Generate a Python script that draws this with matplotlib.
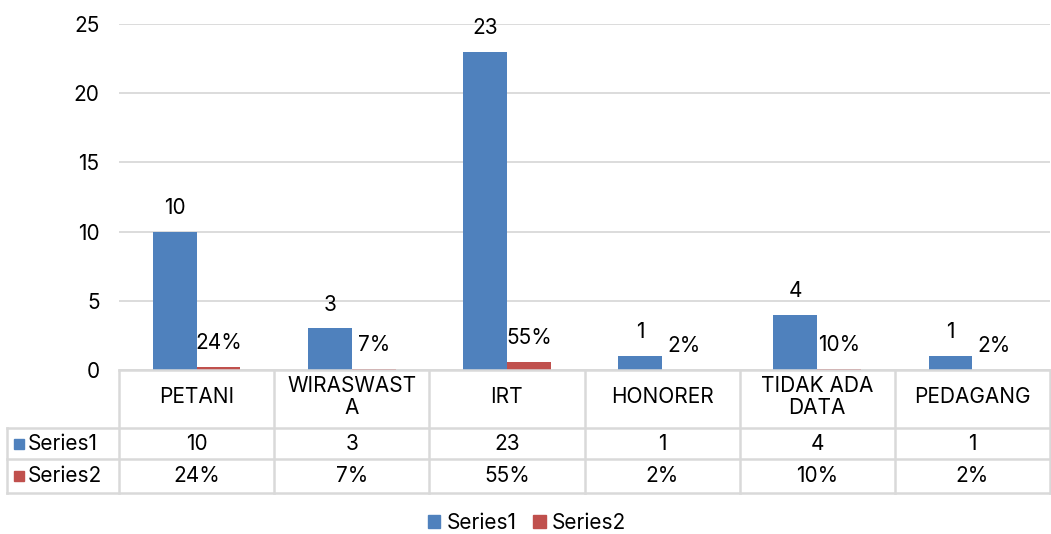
import matplotlib.pyplot as plt
from matplotlib.patches import Patch
import numpy as np

plt.rcParams['font.family'] = ['Inter', 'DejaVu Sans']

# data
kategori = ["PETANI", "WIRASWAST\nA", "IRT", "HONORER", "TIDAK ADA\nDATA", "PEDAGANG"]
series1 = [10, 3, 23, 1, 4, 1]
series2 = [0.24, 0.07, 0.55, 0.02, 0.10, 0.02]
nama_series = ["Series1", "Series2"]
warna = ["#4F81BD", "#C0504D"]
yticks = [0, 5, 10, 15, 20, 25]

W, H = 1051, 534
fs = 15
fig = plt.figure(figsize=(W / 100, H / 100), dpi=100)

# posisi dalam piksel
x0, x1 = 119, 1050
ytop, ybot = 24, 370
ax = fig.add_axes([x0 / W, 1 - ybot / H, (x1 - x0) / W, (ybot - ytop) / H])

n = len(kategori)
x = np.arange(n)
lebar = 0.283
b1 = ax.bar(x - lebar / 2, series1, lebar, color=warna[0], zorder=3)
b2 = ax.bar(x + lebar / 2, series2, lebar, color=warna[1], zorder=3)
ax.bar_label(b1, labels=[str(v) for v in series1], padding=10, fontsize=fs)
ax.bar_label(b2, labels=[f"{v:.0%}" for v in series2], padding=10, fontsize=fs)

ax.set_xlim(-0.5, n - 0.5)
ax.set_ylim(0, 25)
ax.set_yticks(yticks)
ax.tick_params(axis='y', length=0, labelsize=fs, pad=14)
ax.set_xticks([])
ax.grid(axis='y', color='#D9D9D9', linewidth=1.3, zorder=0)
for s in ['top', 'right', 'left', 'bottom']:
    ax.spines[s].set_visible(False)

# tabel data di bawah grafik
def fx(p):
    return p / W

def fy(p):
    return 1 - p / H

garis = '#D9D9D9'
lw = 1.8
y_rows = [370, 428, 459, 493]
kol = (x1 - x0) / n
fig.add_artist(plt.Line2D([fx(x0), fx(x1)], [fy(370), fy(370)], color=garis, lw=lw))
for yy in y_rows[1:]:
    fig.add_artist(plt.Line2D([fx(7), fx(x1)], [fy(yy), fy(yy)], color=garis, lw=lw))
for i in range(n + 1):
    xx = x0 + i * kol
    fig.add_artist(plt.Line2D([fx(xx), fx(xx)], [fy(370), fy(493)], color=garis, lw=lw))
fig.add_artist(plt.Line2D([fx(7), fx(7)], [fy(428), fy(493)], color=garis, lw=lw))

for i in range(n):
    cx = x0 + (i + 0.5) * kol
    fig.text(fx(cx), fy(397), kategori[i], ha='center', va='center', fontsize=fs,
             linespacing=1.15)
    fig.text(fx(cx), fy(443.5), str(series1[i]), ha='center', va='center', fontsize=fs)
    fig.text(fx(cx), fy(476), f"{series2[i]:.0%}", ha='center', va='center', fontsize=fs)

for j, yy in enumerate([443.5, 476]):
    fig.add_artist(plt.Rectangle((fx(14), fy(yy + 5)), 10 / W, 10 / H,
                                 color=warna[j], transform=fig.transFigure))
    fig.text(fx(28), fy(yy), nama_series[j], ha='left', va='center', fontsize=fs)

handles = [Patch(color=warna[0], label=nama_series[0]),
           Patch(color=warna[1], label=nama_series[1])]
fig.legend(handles=handles, loc='center', bbox_to_anchor=(fx(527), fy(523)), ncol=2,
           frameon=False, fontsize=fs, handlelength=0.6, handleheight=0.6,
           handletextpad=0.3, columnspacing=0.8)

fig.savefig("out.png", dpi=100)
